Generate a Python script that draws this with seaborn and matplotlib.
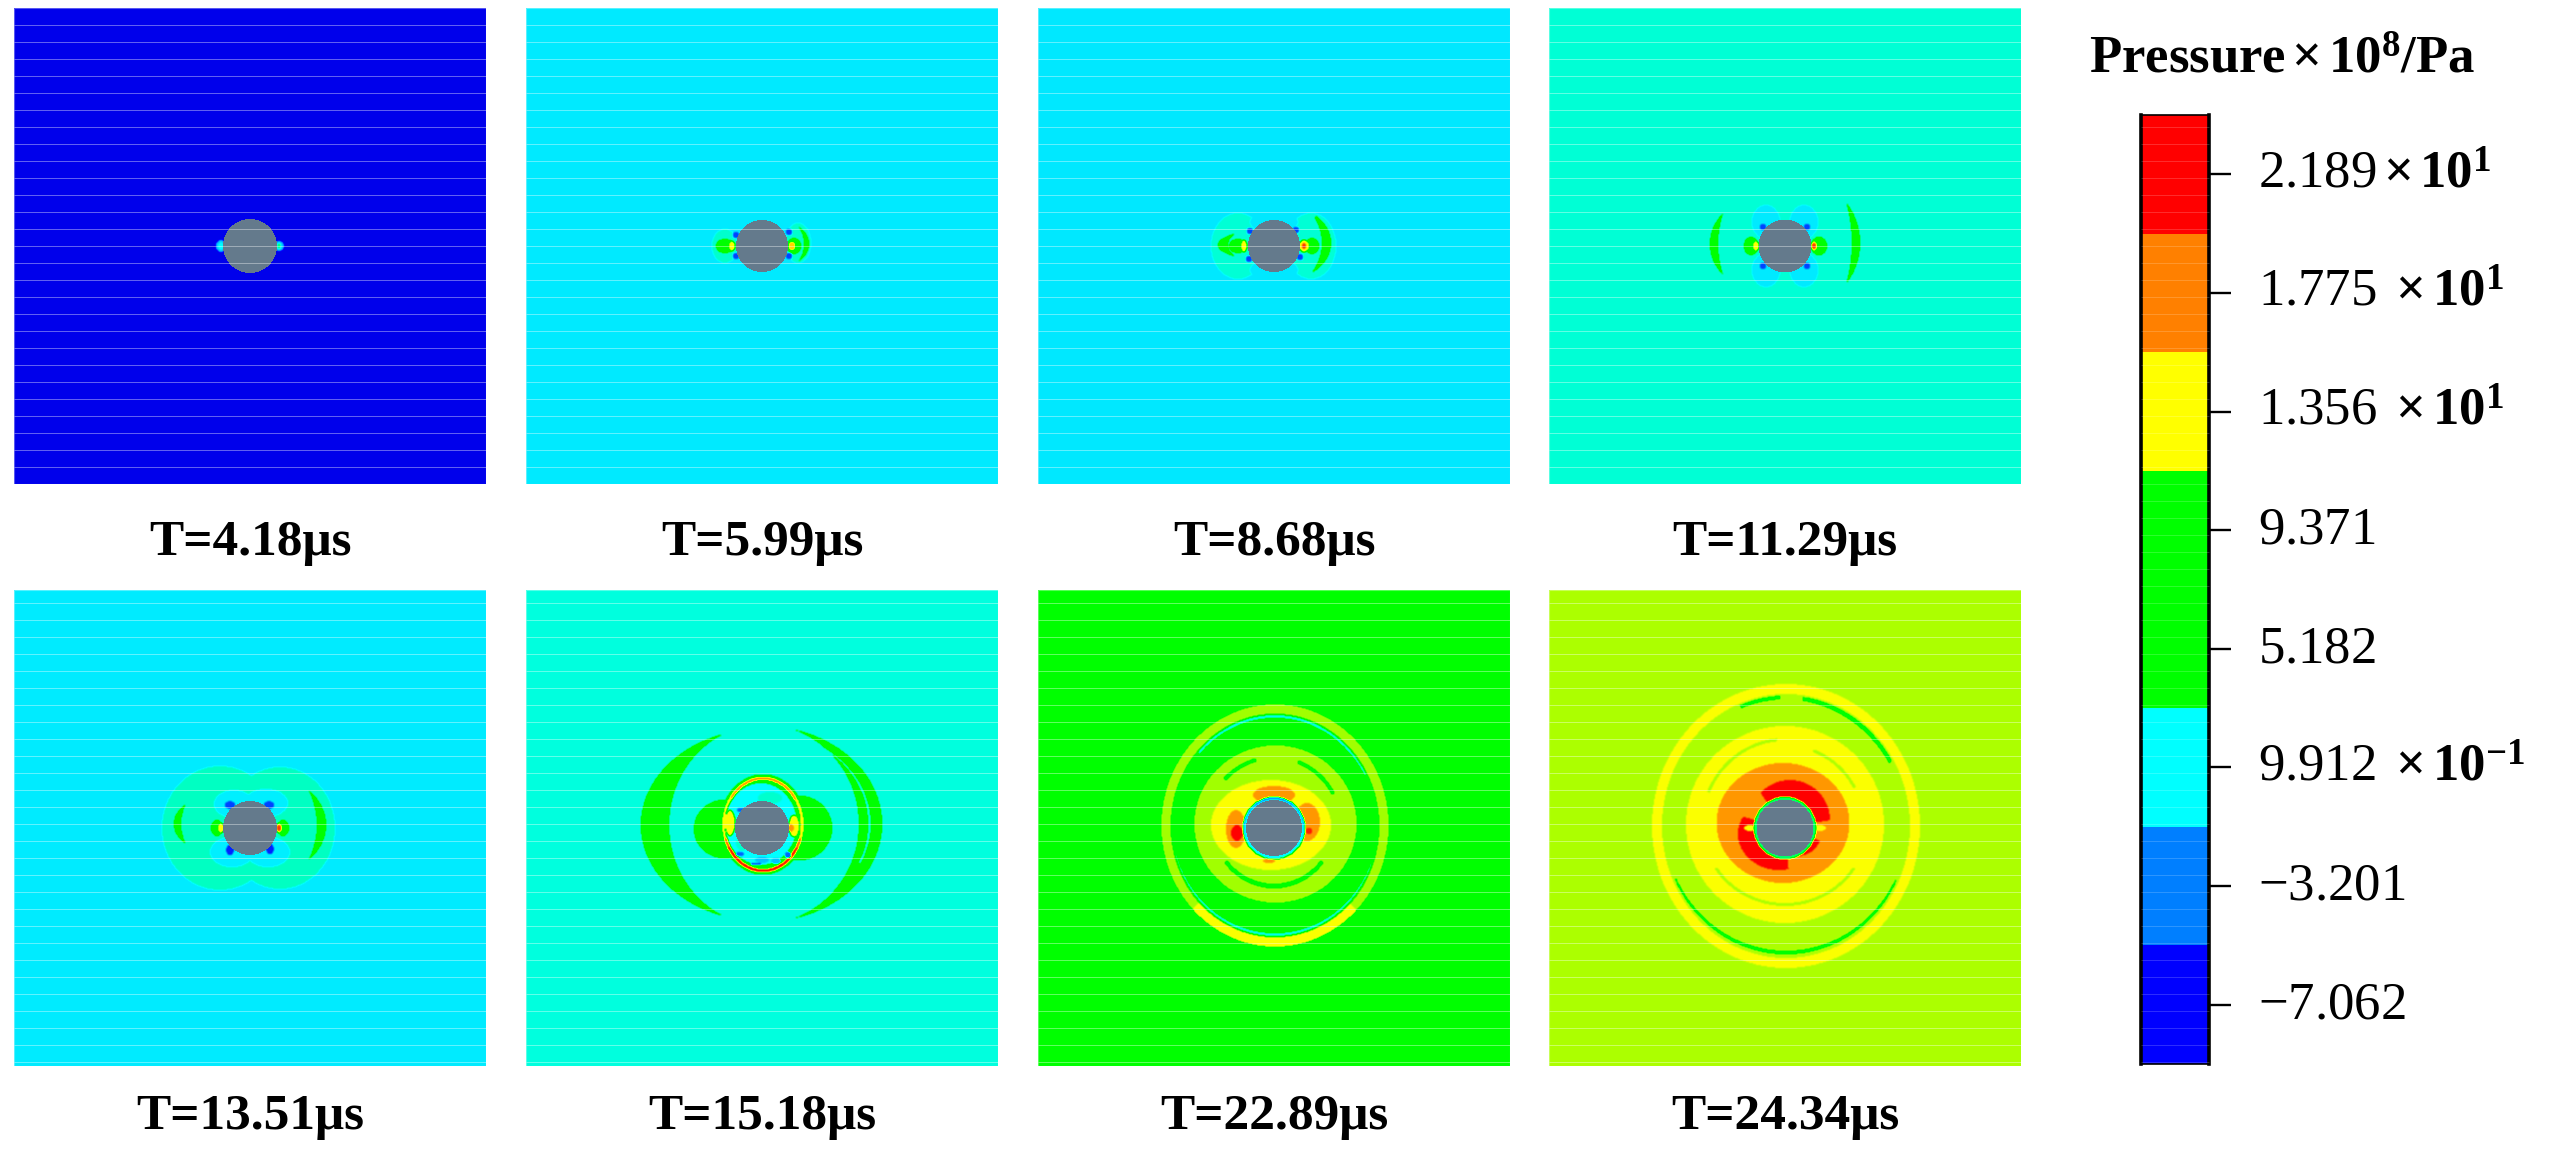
import numpy as np
import matplotlib
matplotlib.use("Agg")
import matplotlib.pyplot as plt
from matplotlib.colors import LinearSegmentedColormap
from matplotlib.transforms import ScaledTranslation
import seaborn as sns

# ---------- data ----------
captions = ["T=4.18μs", "T=5.99μs", "T=8.68μs", "T=11.29μs",
            "T=13.51μs", "T=15.18μs", "T=22.89μs", "T=24.34μs"]
legend_values = [21.89, 17.75, 13.56, 9.371, 5.182, 0.9912, -3.201, -7.062]
legend_colors = ["#FF0000", "#FF8000", "#FFFF00", "#00FF00",
                 "#00FF00", "#00FFFF", "#007FFF", "#0000FF"]
legend_labels = [r"$2.189\,\mathbf{\times}\,\mathbf{10}^{\mathbf{1}}$",
                 r"$1.775\ \,\mathbf{\times}\,\mathbf{10}^{\mathbf{1}}$",
                 r"$1.356\ \,\mathbf{\times}\,\mathbf{10}^{\mathbf{1}}$",
                 r"$9.371$", r"$5.182$",
                 r"$9.912\ \,\mathbf{\times}\,\mathbf{10}^{\mathbf{-1}}$",
                 r"$-3.201$", r"$-7.062$"]
title_text = r"$\mathbf{Pressure}\,\mathbf{\times}\,\mathbf{10}^{\mathbf{8}}\mathbf{/Pa}$"
background_pressure = [-8.3, 0.30, 0.25, 1.70, 0.35, 1.55, 7.0, 12.2]
body_radius = [27, 26, 26, 26.5, 27, 27, 28, 28.5]

# pressure features: (p, cx, cy, rx, ry[, hole cx, cy, rx, ry[, from deg, to deg]])
# in panel pixels from the panel centre, y pointing down
features_418 = [(-1.0, -29, 0, 5, 6), (0.9, -29, 0, 3, 4),
                (-1.0, 29, 0, 5, 5), (3.0, 29, 0, 2.5, 3)]
features_599 = [(1.8, -37, 0, 13, 17), (1.8, 36, -3, 13, 20),
                (7, -37, 0, 9, 7), (7, 32, 0, 7, 8),
                (7, 0, -2, 47, 28, 0, -2, 42, 36, 325, 35),
                (13.5, -30, 0, 3, 5), (15, 30, 0, 3.5, 4),
                (-5, -26, -11, 3, 3), (-5, -26, 10, 3, 3),
                (-5, 27, -14, 3, 3), (-5, 27, 10, 3, 3)]
features_868 = [(1.7, -36, 0, 27, 33), (1.7, 37, 0, 25, 33),
                (0.25, -14, -24, 10, 8), (0.25, 14, -24, 10, 8),
                (0.25, -14, 24, 10, 8), (0.25, 14, 24, 10, 8),
                (7, 0, -1, 56, 16, 0, -1, 46, 22, 150, 210),
                (7, 0, -3, 57, 40, 0, -3, 48, 48, 325, 35),
                (7, -36, 0, 9, 7), (7, 38, 0, 7, 8),
                (13.5, -30, 0, 3, 6), (13.5, 30, 0, 5, 6), (20, 30, 0, 2.5, 3),
                (-5, -24, -15, 3, 3), (-5, -25, 13, 3, 3),
                (-5, 22, -16, 3, 3), (-5, 26, 11, 3, 3)]
features_1129 = [(0.3, -19, -24, 14, 17), (0.3, 19, -24, 14, 17),
                 (0.3, -19, 24, 14, 17), (0.3, 19, 24, 14, 17),
                 (7, 0, -2, 75, 55, 0, -2, 67, 80, 120, 240),
                 (7, 0, -3, 75, 70, 0, -3, 67, 100, 300, 60),
                 (7, -34, 0, 7, 9), (7, 34, 0, 8, 9),
                 (13.5, -29, 0, 3, 5), (13.5, 29, 0, 3, 5), (20, 29, 0, 2, 3),
                 (-5, -22, -19, 3, 3), (-5, 22, -19, 3, 3),
                 (-5, -22, 20, 3, 3), (-5, 22, 20, 3, 3)]
features_1351 = [(2.0, -30, 0, 58, 62), (2.0, 30, 0, 55, 61),
                 (0.5, -16, -24, 20, 14), (0.5, 16, -25, 22, 14),
                 (0.5, -18, 24, 22, 15), (0.5, 18, 24, 22, 15),
                 (7, 0, -4, 76, 38, 0, -4, 69, 55, 120, 240),
                 (7, 0, -3, 76, 55, 0, -3, 67, 72, 300, 60),
                 (7, -33, 0, 6, 8), (7, 33, 0, 6, 8),
                 (13.5, -29, 0, 3, 5), (13.5, 29, 0, 3, 5), (20, 29, 0, 2, 3),
                 (-5, -20, -23, 5, 4), (-5, 19, -23, 5, 4),
                 (-6, -20, 22, 4, 5), (-6, 20, 21, 4, 5)]
features_1518 = [(7, 0, -3, 121, 96, 0, -3, 93, 100, 90, 270),
                 (7, 0, -4, 120, 98, 0, -4, 97, 100, 270, 90),
                 (1.55, 0, -4, 109, 93, 0, -4, 106, 93, 300, 20),
                 (7, 38, 0, 32, 32), (7, -38, 1, 30, 29),
                 (7, 1, -3.5, 43, 50),
                 (13.5, 1, -3.5, 41, 48),
                 (18, 1, -3.5, 40.5, 48, 1, -8, 38, 47, 15, 165),
                 (21.5, 1, -3.5, 40, 47.5, 1, -7, 38, 47, 30, 150),
                 (17, 1, -3.5, 39.5, 47.5, 1, -1, 38, 47, 225, 320),
                 (7, 1, -3.5, 37.5, 44.5), (1, -1, -4, 36, 41),
                 (1.8, 8, -30, 12, 6), (1.8, -20, 15, 6, 8),
                 (13.5, -32, -5, 5, 13), (13.5, 32, -2, 5, 11),
                 (17, 29, 0, 3, 4),
                 (-4, -21, -18, 4, 2), (-4, -22, 26, 4, 2), (-5, -6, 36, 5, 1.5),
                 (-4, 26, 27, 3, 3), (-1, 0, 32, 7, 3), (-1, 14, 33, 5, 3)]
features_2289 = [(12, 1, -2.5, 114, 121.5, 1, -2, 104, 112),
                 (13.5, 1, -2.5, 114, 121.5, 1, -5, 106, 114, 45, 135),
                 (1.3, 1, -2, 103, 111, 1, 0, 102, 110, 225, 330),
                 (1.3, 1, -2, 103, 110, 1, -5, 103, 110, 20, 165),
                 (12, 1.5, -4, 81.5, 79),
                 (7, 0, -4, 68, 68, 0, -4, 65, 65, 225, 255),
                 (7, 0, -4, 68, 68, 0, -4, 65, 65, 290, 330),
                 (7, 0, -4, 62, 64, 0, -4, 59, 60, 35, 145),
                 (13.5, -3, -3, 60, 45),
                 (17, 0, -33, 21, 9), (17, -38, 1, 10, 19), (17, 33, -6, 13, 19),
                 (17, -5, 33, 6, 2),
                 (21.89, -37, 5, 6, 8), (21, 35, 3, 3, 3),
                 (-3, 0, 0, 31, 31), (0.9, 0, 1, 30, 30)]
features_2434 = [(13.5, 1, -2, 134, 142, 1, -2, 124, 132),
                 (7, 1, -2, 122, 130, -1, 1, 122, 130, 278, 328),
                 (7, 1, -2, 122, 130, 1, 1, 122, 130, 250, 268),
                 (7, 1, -2, 122, 128, 1, -5, 122, 128, 25, 155),
                 (13.5, 0, -3.5, 99, 98.5),
                 (12.2, 0, -4, 84, 86, 0, -4, 81, 83, 205, 265),
                 (12.2, 0, -4, 80, 80, 0, -4, 77, 77, 290, 330),
                 (12.2, 0, -4, 84, 82, 0, -4, 81, 79, 30, 150),
                 (17, -2, -5, 66.5, 60),
                 (21.89, 5, -8, 40, 40, 1000, 0, 1, 1, 235, 350),
                 (21.89, -6, 6, 41, 36, 1000, 0, 1, 1, 85, 195),
                 (21.89, 12, 6, 24, 22, 1000, 0, 1, 1, 20, 70),
                 (13.5, -35, 0, 6, 3), (13.5, 35, 0, 6, 3),
                 (3.5, 0, 0, 31, 31)]
panel_features = [features_418, features_599, features_868, features_1129,
                  features_1351, features_1518, features_2289, features_2434]

# ---------- layout in reference pixels ----------
FIG_W, FIG_H = 2560, 1160
panel_lefts = [14, 526, 1038, 1549]
panel_tops = [8, 590]
PANEL_W, PANEL_H = 472, 476
BAR_BOX = (2141, 115, 68, 949)   # left, top, width, height
LINE_TOP, LINE_STEP, LINE_COUNT = 25, 17, 62
caption_baselines = [555, 1129]


def axes_px(left, top, width, height, **kw):
    return fig.add_axes([left / FIG_W, 1 - (top + height) / FIG_H,
                         width / FIG_W, height / FIG_H], **kw)


def angle_ok(theta, a0, a1):
    if a0 <= a1:
        return (theta >= a0) & (theta <= a1)
    return (theta >= a0) | (theta <= a1)


def soften(f):
    # the reference is a slightly blurred screenshot: a small binomial smoothing
    for axis in (0, 1):
        f = (np.roll(f, 1, axis) + 2 * f + np.roll(f, -1, axis)) / 4
    return f


def build_field(base, feats):
    ys, xs = np.mgrid[0:PANEL_H, 0:PANEL_W]
    dx = xs + 0.5 - PANEL_W / 2
    dy = ys + 0.5 - PANEL_H / 2
    theta = np.degrees(np.arctan2(dy, dx)) % 360
    f = np.full(dx.shape, float(base))
    for item in feats:
        p, cx, cy, rx, ry = item[:5]
        m = ((dx - cx) / rx) ** 2 + ((dy - cy) / ry) ** 2 <= 1
        if len(item) >= 9:
            hx, hy, hrx, hry = item[5:9]
            m &= ((dx - hx) / hrx) ** 2 + ((dy - hy) / hry) ** 2 > 1
        if len(item) == 11:
            m &= angle_ok(theta, item[9], item[10])
        f[m] = p
    return soften(f), dx, dy


sns.set_theme(style="white")
plt.rcParams["font.family"] = ["Liberation Serif", "DejaVu Sans"]
plt.rcParams["mathtext.fontset"] = "custom"
plt.rcParams["mathtext.rm"] = "Liberation Serif"
plt.rcParams["mathtext.bf"] = "Liberation Serif:bold"
plt.rcParams["mathtext.it"] = "Liberation Serif:italic"
plt.rcParams["mathtext.default"] = "rm"

V_MIN, V_MAX = -9.0, 21.89
anchors = [(-9.0, "#0000E0")] + list(zip(legend_values[::-1], legend_colors[::-1]))
cmap = LinearSegmentedColormap.from_list(
    "pressure", [((v - V_MIN) / (V_MAX - V_MIN), c) for v, c in anchors], N=1024)
cmap.set_bad("#647A8C")

fig = plt.figure(figsize=(FIG_W / 100, FIG_H / 100), dpi=100, facecolor="white")

# ---------- pressure panels ----------
panel_boxes = []
for i in range(8):
    left = panel_lefts[i % 4]
    top = panel_tops[i // 4]
    ax = axes_px(left, top, PANEL_W, PANEL_H)
    field, dx, dy = build_field(background_pressure[i], panel_features[i])
    mask = dx ** 2 + dy ** 2 <= body_radius[i] ** 2
    sns.heatmap(field, mask=mask, cmap=cmap, vmin=V_MIN, vmax=V_MAX, cbar=False,
                xticklabels=False, yticklabels=False, ax=ax, rasterized=True)
    panel_boxes.append((left, top))

# ---------- colour legend ----------
bar_ax = axes_px(*BAR_BOX)
sns.heatmap(np.array(legend_values).reshape(-1, 1), cmap=cmap, vmin=V_MIN, vmax=V_MAX,
            cbar=False, xticklabels=False, yticklabels=legend_labels, ax=bar_ax)
bar_ax.yaxis.tick_right()
bar_ax.tick_params(axis="y", length=16, width=1.7, color="black", pad=19, labelsize=38,
                   labelcolor="black", labelrotation=0, right=True, left=False)
for name, spine in bar_ax.spines.items():
    spine.set_visible(True)
    spine.set_color("black")
    spine.set_linewidth(2.6 if name in ("left", "right") else 1.2)
label_shift = ScaledTranslation(0, 5 / 100, fig.dpi_scale_trans)
for lab in bar_ax.get_yticklabels():
    lab.set_ha("left")
    lab.set_transform(lab.get_transform() + label_shift)

# ---------- overlay: mesh lines and texts, in picture pixels ----------
over = fig.add_axes([0, 0, 1, 1], zorder=5)
over.set_xlim(0, FIG_W)
over.set_ylim(FIG_H, 0)
over.axis("off")
line_rows = LINE_TOP + LINE_STEP * np.arange(LINE_COUNT)
for left, top in panel_boxes:
    rows = line_rows[(line_rows > top) & (line_rows < top + PANEL_H)]
    over.hlines(rows, left, left + PANEL_W, color="white", alpha=0.42, lw=0.65)
    over.hlines([top, top + PANEL_H], left, left + PANEL_W, color="white", alpha=0.35, lw=0.8)
    over.vlines([left, left + PANEL_W], top, top + PANEL_H, color="white", alpha=0.35, lw=0.8)
bar_rows = line_rows[(line_rows > BAR_BOX[1]) & (line_rows < BAR_BOX[1] + BAR_BOX[3])]
over.hlines(bar_rows, BAR_BOX[0], BAR_BOX[0] + BAR_BOX[2], color="white", alpha=0.18, lw=0.7)

for i, text in enumerate(captions):
    over.text(panel_lefts[i % 4] + PANEL_W / 2, caption_baselines[i // 4], text,
              ha="center", va="baseline", fontsize=37, fontweight="bold", color="black")
over.text(2282, 73, title_text, ha="center", va="baseline", fontsize=38, color="black")

fig.savefig("out.png", dpi=100, facecolor="white")
